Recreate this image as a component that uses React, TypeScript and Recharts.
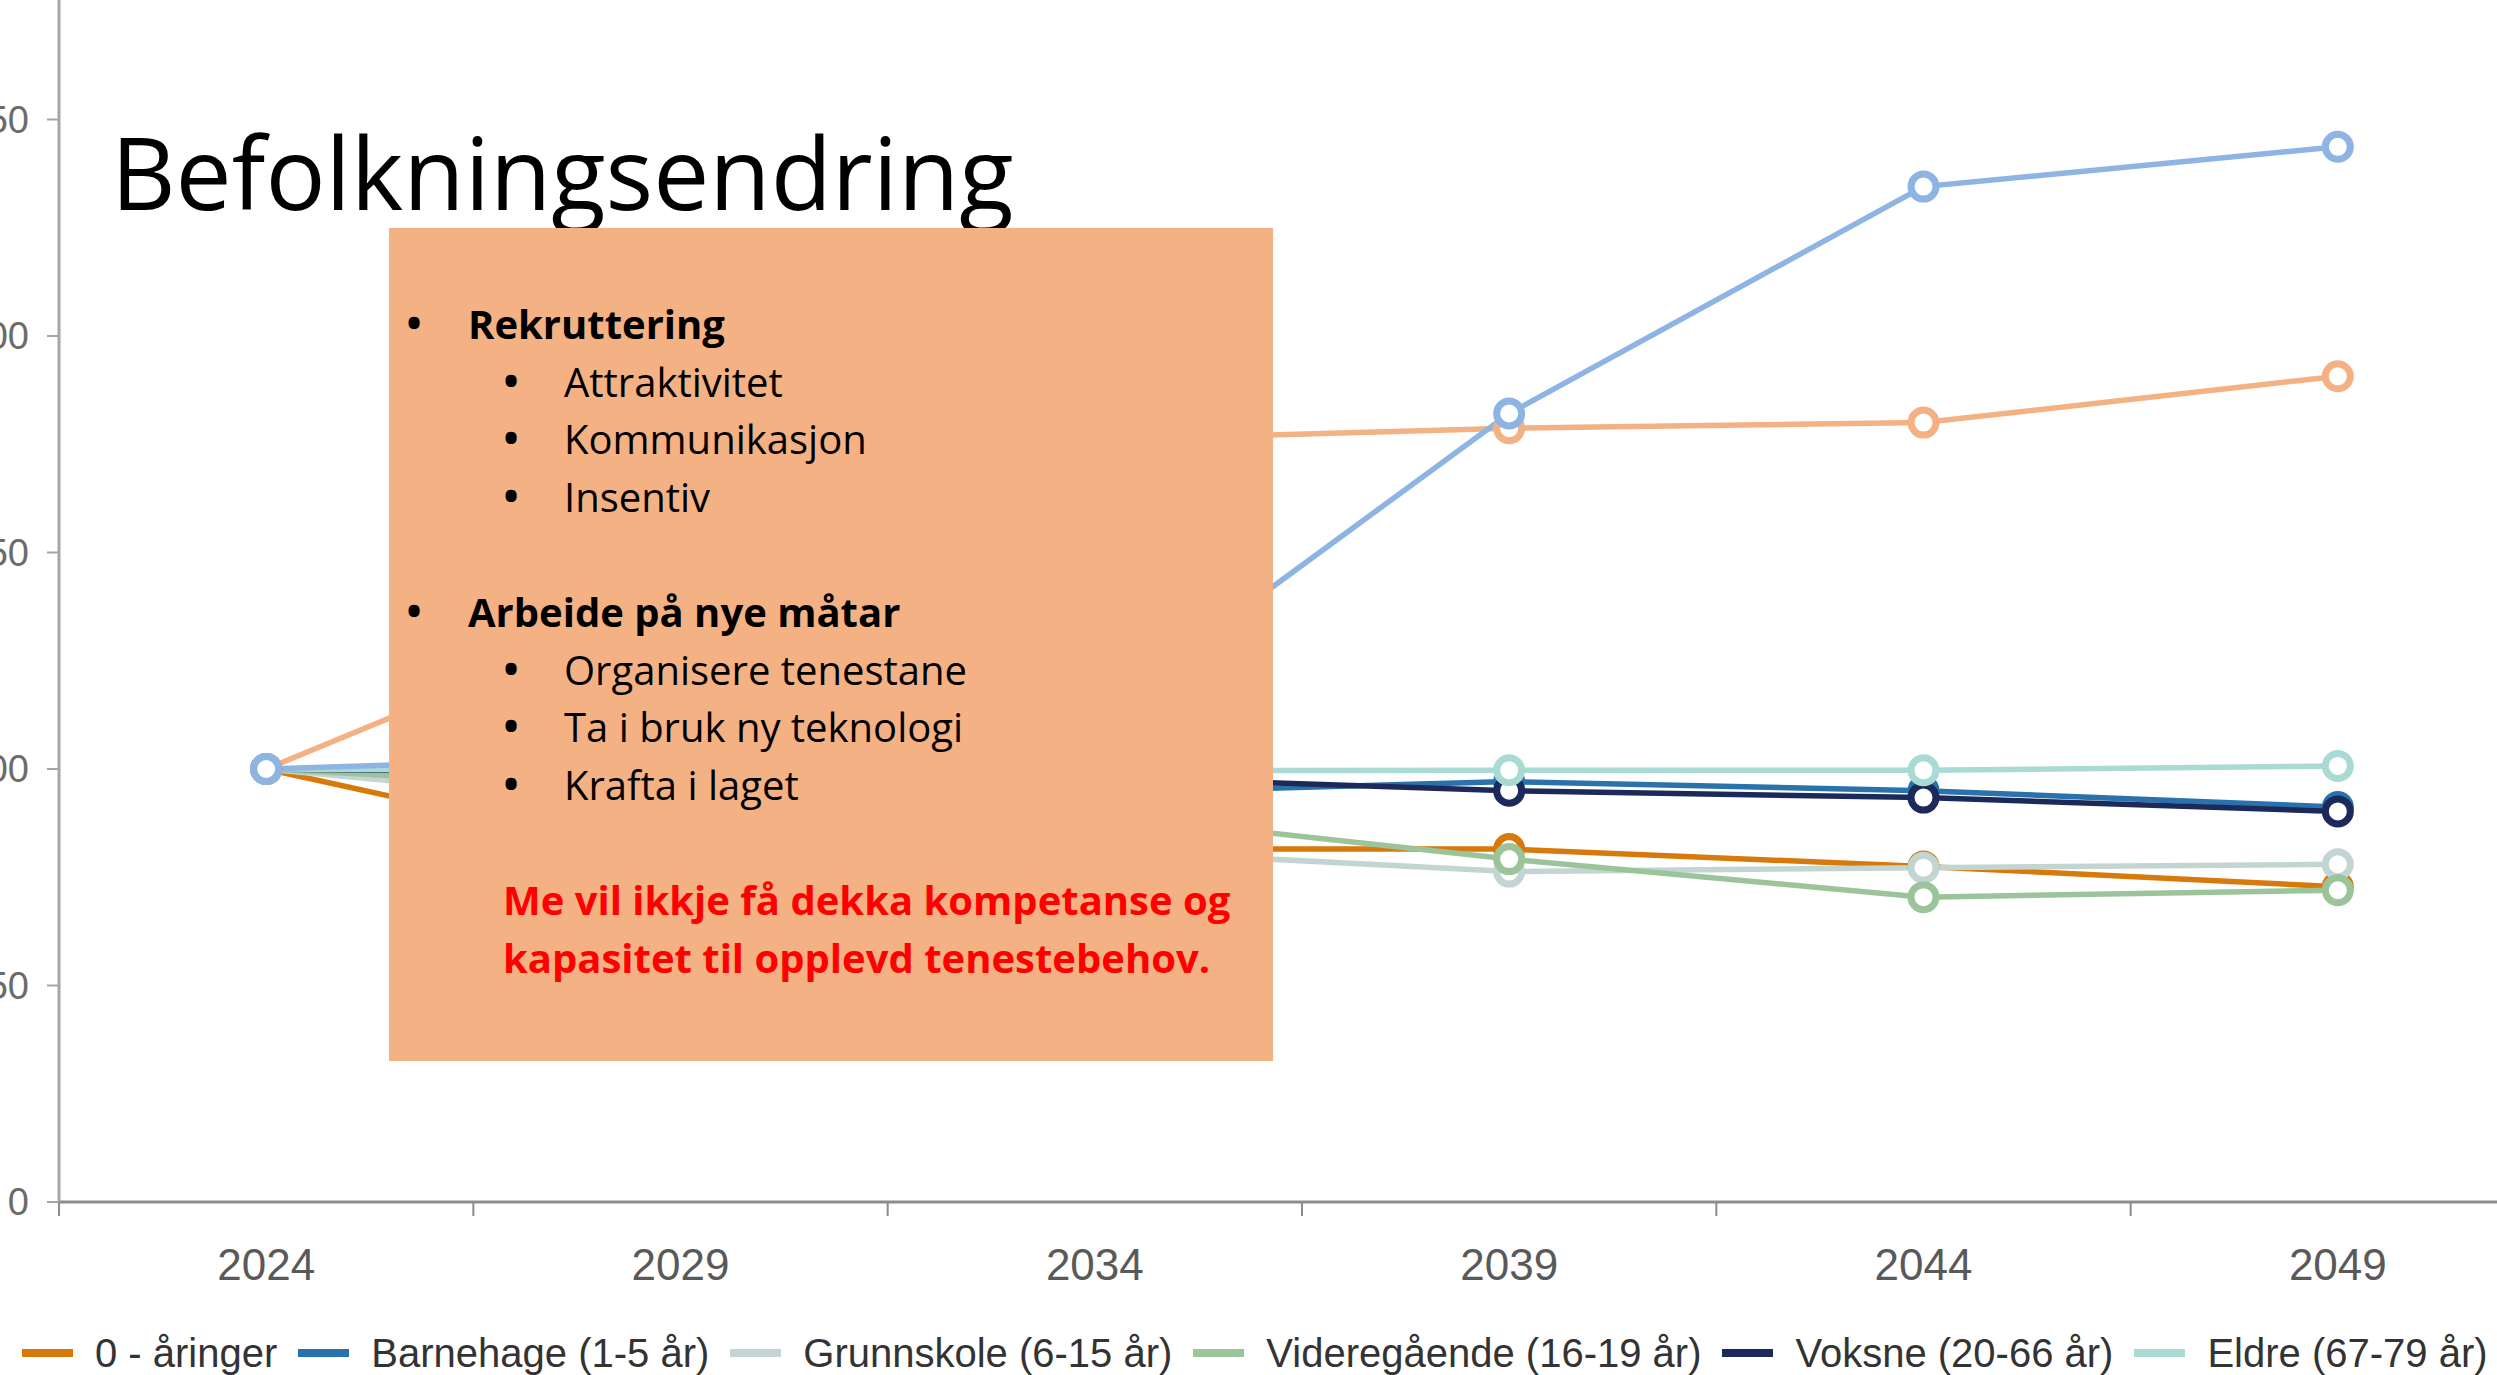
import { LineChart, Line, XAxis, YAxis } from "recharts"

const years = ["2024", "2029", "2034", "2039", "2044", "2049"]
const yTicks = [0, 50, 100, 150, 200, 250, 300]

// indeks, 2024 = 100
const aringer = [100, 79, 81.5, 81.5, 77.5, 72.8]
const barnehage = [100, 98, 94.4, 97.1, 95, 91.2]
const grunnskole = [100, 91, 81.3, 76.3, 77.2, 78]
const vgs = [100, 95, 89.6, 79.2, 70.4, 72]
const voksne = [100, 99, 98.2, 95, 93.4, 90.2]
const eldre = [100, 99.5, 99.6, 99.7, 99.7, 100.7]
const eldre80 = [100, 139.5, 176, 178.7, 180, 190.7]
const eldre90 = [100, 103, 112, 182.1, 234.5, 243.7]

const series = [
  { key: "aringer", name: "0 - åringer", values: aringer, color: "#d8790b", legend: true },
  { key: "barnehage", name: "Barnehage (1-5 år)", values: barnehage, color: "#2a72ab", legend: true },
  { key: "grunnskole", name: "Grunnskole (6-15 år)", values: grunnskole, color: "#c3d5d3", legend: true },
  { key: "vgs", name: "Videregående (16-19 år)", values: vgs, color: "#9cc49b", legend: true },
  { key: "voksne", name: "Voksne (20-66 år)", values: voksne, color: "#1b2a5b", legend: true },
  { key: "eldre", name: "Eldre (67-79 år)", values: eldre, color: "#a9dad4", legend: true },
  { key: "eldre80", name: "eldre80", values: eldre80, color: "#f4b183", legend: false },
  { key: "eldre90", name: "eldre90", values: eldre90, color: "#8db4e2", legend: false },
]

const title = "Befolkningsendring"
const bulletGroups = [
  { head: "Rekruttering", items: ["Attraktivitet", "Kommunikasjon", "Insentiv"] },
  { head: "Arbeide på nye måtar", items: ["Organisere tenestane", "Ta i bruk ny teknologi", "Krafta i laget"] },
]
const redLines = ["Me vil ikkje få dekka kompetanse og", "kapasitet til opplevd tenestebehov."]

const data = years.map((year, i) => {
  const row: Record<string, any> = { year }
  series.forEach(s => { row[s.key] = s.values[i] })
  return row
})

const axisFont = "'Liberation Sans', Arial, sans-serif"
const boxFont = "'Open Sans', 'Noto Sans', sans-serif"

// tick mark between categories, label in the middle
function YearTick(props: any) {
  const { x, y, payload } = props
  const half = payload?.offset ?? 0
  return (
    <g>
      <line x1={x - half} x2={x - half} y1={y} y2={y + 14} stroke="#8c8c8c" strokeWidth={2} />
      <text x={x} y={y + 78} textAnchor="middle" fontSize={44} fill="#595959" fontFamily={axisFont}>
        {payload.value}
      </text>
    </g>
  )
}

function Overlay() {
  const rows: { text: string; level: number; row: number }[] = []
  let r = 0
  bulletGroups.forEach(g => {
    rows.push({ text: g.head, level: 0, row: r++ })
    g.items.forEach(t => rows.push({ text: t, level: 1, row: r++ }))
    r++
  })
  const lineY = (row: number) => 339 + row * 57.6

  return (
    <svg width={2497} height={1375} style={{ position: "absolute", left: 0, top: 0, pointerEvents: "none" }}>
      <text x={111} y={210} fontSize={100} fontWeight={400} fontFamily={boxFont} fill="#000">{title}</text>
      <rect x={389} y={228} width={884} height={833} fill="#f4b183" />
      {rows.map((l, i) => (
        <g key={i} fontFamily={boxFont} fill="#000">
          <text x={l.level === 0 ? 414 : 511} y={lineY(l.row) - 2} textAnchor="middle" fontSize={40} fontWeight={700}>•</text>
          <text x={l.level === 0 ? 468 : 564} y={lineY(l.row)} fontSize={40} fontWeight={l.level === 0 ? 700 : 400}>
            {l.text}
          </text>
        </g>
      ))}
      {redLines.map((t, i) => (
        <text key={t} x={503} y={lineY(r + i)} fontSize={40} fontWeight={700} fontFamily={boxFont} fill="#ff0000">
          {t}
        </text>
      ))}
    </svg>
  )
}

export default function App() {
  return (
    <div style={{ position: "relative", width: 2497, height: 1375, overflow: "hidden", background: "#fff" }}>
      <style>{"body{margin:0}"}</style>
      <div style={{ position: "absolute", left: -40, top: -120 }}>
        <LineChart width={2585} height={1422} data={data} margin={{ top: 23, right: 0, bottom: 0, left: 0 }}>
          <XAxis
            dataKey="year"
            scale="band"
            interval={0}
            height={100}
            tickSize={0}
            tickMargin={0}
            tickLine={false}
            axisLine={{ stroke: "#8c8c8c", strokeWidth: 3 }}
            tick={<YearTick />}
          />
          <YAxis
            width={99}
            domain={[0, 300]}
            ticks={yTicks}
            interval={0}
            tickSize={12}
            tickMargin={18}
            axisLine={{ stroke: "#a6a6a6", strokeWidth: 3 }}
            tickLine={{ stroke: "#a6a6a6", strokeWidth: 2 }}
            tick={{ fontSize: 38, fill: "#6b6b6b", fontFamily: axisFont }}
          />
          {series.map(s => (
            <Line
              key={s.key}
              dataKey={s.key}
              name={s.name}
              type="linear"
              stroke={s.color}
              strokeWidth={5.5}
              dot={{ r: 12.5, fill: "#fff", stroke: s.color, strokeWidth: 7 }}
              activeDot={false}
              isAnimationActive={false}
            />
          ))}
        </LineChart>
      </div>
      <Overlay />
      <div
        style={{
          position: "absolute", left: 22, top: 1329, display: "flex", gap: 21,
          whiteSpace: "nowrap", fontFamily: axisFont, fontSize: 40, lineHeight: "48px", color: "#333",
        }}
      >
        {series.filter(s => s.legend).map(s => (
          <div key={s.key} style={{ display: "flex", alignItems: "center" }}>
            <span style={{ width: 51, height: 8, background: s.color, marginRight: 22, display: "inline-block" }} />
            <span>{s.name}</span>
          </div>
        ))}
      </div>
    </div>
  )
}
